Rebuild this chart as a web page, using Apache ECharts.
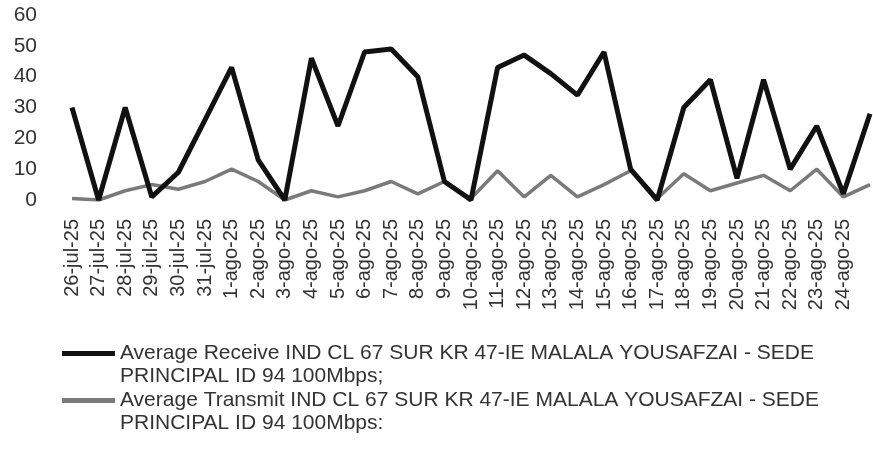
<!DOCTYPE html>
<html>
<head>
<meta charset="utf-8">
<script src="https://cdn.jsdelivr.net/npm/echarts@6/dist/echarts.min.js"></script>
<style>
  html, body { margin: 0; padding: 0; background: #fff; }
  #chart { width: 873px; height: 468px; }
</style>
</head>
<body>
<div id="chart"></div>
<script>
// values
const categories = [
  '26-jul-25', '27-jul-25', '28-jul-25', '29-jul-25', '30-jul-25', '31-jul-25',
  '1-ago-25', '2-ago-25', '3-ago-25', '4-ago-25', '5-ago-25', '6-ago-25',
  '7-ago-25', '8-ago-25', '9-ago-25', '10-ago-25', '11-ago-25', '12-ago-25',
  '13-ago-25', '14-ago-25', '15-ago-25', '16-ago-25', '17-ago-25', '18-ago-25',
  '19-ago-25', '20-ago-25', '21-ago-25', '22-ago-25', '23-ago-25', '24-ago-25',
  '25-ago-25'
]
const receive = [30, 0, 30, 1, 9, 26, 43, 13, 0, 46, 24, 48, 49, 40, 6, 0,
  43, 47, 41, 34, 48, 10, 0, 30, 39, 7, 39, 10, 24, 2, 28]
const transmit = [0.5, 0, 3, 5, 3.5, 6, 10, 6, 0, 3, 1, 3, 6, 2, 6, 0.5,
  9.5, 1, 8, 1, 5, 9.5, 0.5, 8.5, 3, 5.5, 8, 3, 10, 1, 5]
const yTicks = [0, 10, 20, 30, 40, 50, 60]

const receiveName = 'Average Receive IND CL 67 SUR KR 47-IE MALALA YOUSAFZAI - SEDE PRINCIPAL ID 94 100Mbps;'
const transmitName = 'Average Transmit IND CL 67 SUR KR 47-IE MALALA YOUSAFZAI - SEDE PRINCIPAL ID 94 100Mbps:'

const font = 'Liberation Sans, Arial, sans-serif'
const chart = echarts.init(document.getElementById('chart'))

chart.setOption({
  animation: false,
  grid: {
    left: 72,
    right: 3,
    top: 15,
    bottom: 268,
    containLabel: false
  },
  xAxis: {
    type: 'category',
    data: categories,
    boundaryGap: false,
    axisLine: { show: false },
    axisTick: { show: false },
    splitLine: { show: false },
    axisLabel: {
      rotate: 90,
      interval: 0,
      margin: 19,
      fontSize: 20,
      fontFamily: font,
      color: '#333',
      // last day is cut off at the right edge in the original
      formatter: (value, index) => index === categories.length - 1 ? '' : value
    }
  },
  yAxis: {
    type: 'value',
    min: yTicks[0],
    max: yTicks[yTicks.length - 1],
    interval: 10,
    axisLine: { show: false },
    axisTick: { show: false },
    splitLine: { show: false },
    axisLabel: {
      margin: 35,
      fontSize: 21,
      fontFamily: font,
      color: '#333'
    }
  },
  legend: {
    orient: 'vertical',
    left: 57,
    top: 337,
    itemWidth: 53,
    itemHeight: 46,
    itemGap: 1,
    // bar drawn beside the first text line
    icon: 'path://M0,9H53V14H0Z M0,0H0.05V0.05H0Z M0,46H0.05V46.05H0Z',
    formatter: name => name.replace('SEDE ', 'SEDE\n'),
    textStyle: {
      fontSize: 21,
      lineHeight: 23,
      fontFamily: font,
      color: '#333'
    },
    data: [receiveName, transmitName]
  },
  series: [
    {
      name: receiveName,
      type: 'line',
      data: receive,
      symbol: 'none',
      color: '#111',
      lineStyle: { width: 5, color: '#111' },
      z: 3
    },
    {
      name: transmitName,
      type: 'line',
      data: transmit,
      symbol: 'none',
      color: '#7a7a7a',
      lineStyle: { width: 3.5, color: '#7a7a7a' },
      z: 2
    }
  ]
})
</script>
</body>
</html>
